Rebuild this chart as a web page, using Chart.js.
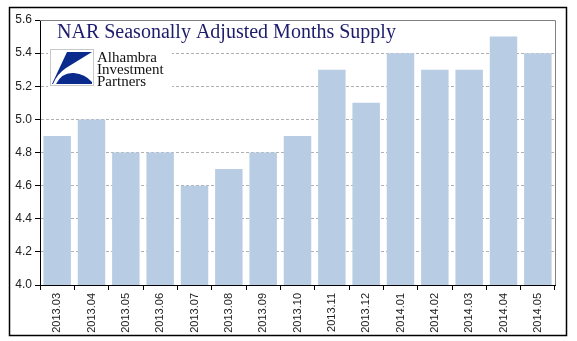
<!DOCTYPE html>
<html>
<head>
<meta charset="utf-8">
<script src="https://cdn.jsdelivr.net/npm/chart.js@4/dist/chart.umd.min.js"></script>
<style>
    html, body { margin: 0; padding: 0; background: #fff; }
    #wrap { width: 577px; height: 341px; }
</style>
</head>
<body>
<div id="wrap"><canvas id="myChart" width="577" height="341"></canvas></div>
<script>
let months = ['2013.03', '2013.04', '2013.05', '2013.06', '2013.07', '2013.08', '2013.09', '2013.10',
    '2013.11', '2013.12', '2014.01', '2014.02', '2014.03', '2014.04', '2014.05'];
let supply = [4.9, 5.0, 4.8, 4.8, 4.6, 4.7, 4.8, 4.9, 5.3, 5.1, 5.4, 5.3, 5.3, 5.5, 5.4];
let yTicks = [4.0, 4.2, 4.4, 4.6, 4.8, 5.0, 5.2, 5.4, 5.6];

let titleText = 'NAR Seasonally Adjusted Months Supply';
let logoLines = ['Alhambra', 'Investment', 'Partners'];

let barColor = '#b8cce4';

// frame, title and logo drawn on top of the chart
const decorations = {
    id: 'decorations',
    beforeDraw(chart) {
        const ctx = chart.ctx;
        ctx.save();
        ctx.fillStyle = '#fff';
        ctx.fillRect(0, 0, chart.width, chart.height);
        ctx.restore();
    },
    afterDraw(chart) {
        const ctx = chart.ctx;
        const a = chart.chartArea;
        ctx.save();

        // grey top / right edges of the plot
        ctx.strokeStyle = '#808080';
        ctx.lineWidth = 1;
        ctx.beginPath();
        ctx.moveTo(a.left, a.top + 0.5);
        ctx.lineTo(a.right + 0.5, a.top + 0.5);
        ctx.lineTo(a.right + 0.5, a.bottom);
        ctx.stroke();

        // outer black box
        ctx.strokeStyle = '#000';
        ctx.lineWidth = 1.5;
        ctx.strokeRect(9.5, 7.5, 557, 328);

        // title
        ctx.fillStyle = '#1c1c6b';
        ctx.font = '20px "Liberation Serif", "Times New Roman", serif';
        ctx.textBaseline = 'middle';
        ctx.fillText(titleText, 57, 33);

        // logo block (white backing hides the grid line)
        ctx.fillStyle = '#fff';
        ctx.fillRect(48, 47, 124, 42);
        ctx.strokeStyle = '#c8c8c8';
        ctx.lineWidth = 1;
        ctx.strokeRect(50.5, 49.5, 43, 36);

        ctx.fillStyle = '#0a2a8c';
        ctx.beginPath();
        ctx.moveTo(67, 52);
        ctx.lineTo(92, 52);
        ctx.lineTo(66, 68);
        ctx.quadraticCurveTo(57, 74, 53, 84);
        ctx.lineTo(52, 84);
        ctx.closePath();
        ctx.fill();

        ctx.beginPath();
        ctx.moveTo(56, 84);
        ctx.quadraticCurveTo(62, 72, 74, 73);
        ctx.quadraticCurveTo(85, 74, 92, 82);
        ctx.lineTo(92, 84);
        ctx.closePath();
        ctx.fill();

        ctx.fillStyle = '#111';
        ctx.font = '15px "Liberation Serif", "Times New Roman", serif';
        ctx.textBaseline = 'alphabetic';
        for (let i = 0; i < logoLines.length; i++) {
            ctx.fillText(logoLines[i], 97, 62 + i * 12);
        }
        ctx.restore();
    }
};

let myChart = document.getElementById('myChart').getContext('2d');

let chart = new Chart(myChart, {
    type: 'bar',
    data: {
        labels: months,
        datasets: [{
            label: 'Months Supply',
            data: supply,
            backgroundColor: barColor,
            barPercentage: 0.8,
            categoryPercentage: 1
        }]
    },
    options: {
        responsive: false,
        animation: false,
        devicePixelRatio: 1,
        layout: { padding: { left: 10, right: 22, top: 20, bottom: 6 } },
        plugins: {
            legend: { display: false },
            tooltip: { enabled: false }
        },
        scales: {
            x: {
                offset: true,
                grid: {
                    offset: true,
                    drawOnChartArea: false,
                    drawTicks: true,
                    tickLength: 5,
                    tickColor: '#000'
                },
                border: { color: '#000', width: 1 },
                ticks: {
                    minRotation: 90,
                    maxRotation: 90,
                    autoSkip: false,
                    padding: 3,
                    color: '#222',
                    font: { family: '"Liberation Sans", Arial, sans-serif', size: 11 }
                },
                afterFit(scale) { scale.height = 50; }
            },
            y: {
                min: 4.0,
                max: 5.6,
                afterBuildTicks(scale) {
                    scale.ticks = yTicks.map(v => ({ value: v }));
                },
                grid: {
                    color: '#b0b0b0',
                    tickColor: '#000',
                    tickLength: 5,
                    tickBorderDash: []
                },
                border: { color: '#000', width: 1, dash: [3, 2] },
                ticks: {
                    padding: 3,
                    color: '#222',
                    font: { family: '"Liberation Sans", Arial, sans-serif', size: 12 },
                    callback: v => Number(v).toFixed(1)
                },
                afterFit(scale) { scale.width = 30; }
            }
        }
    },
    plugins: [decorations]
});
</script>
</body>
</html>
